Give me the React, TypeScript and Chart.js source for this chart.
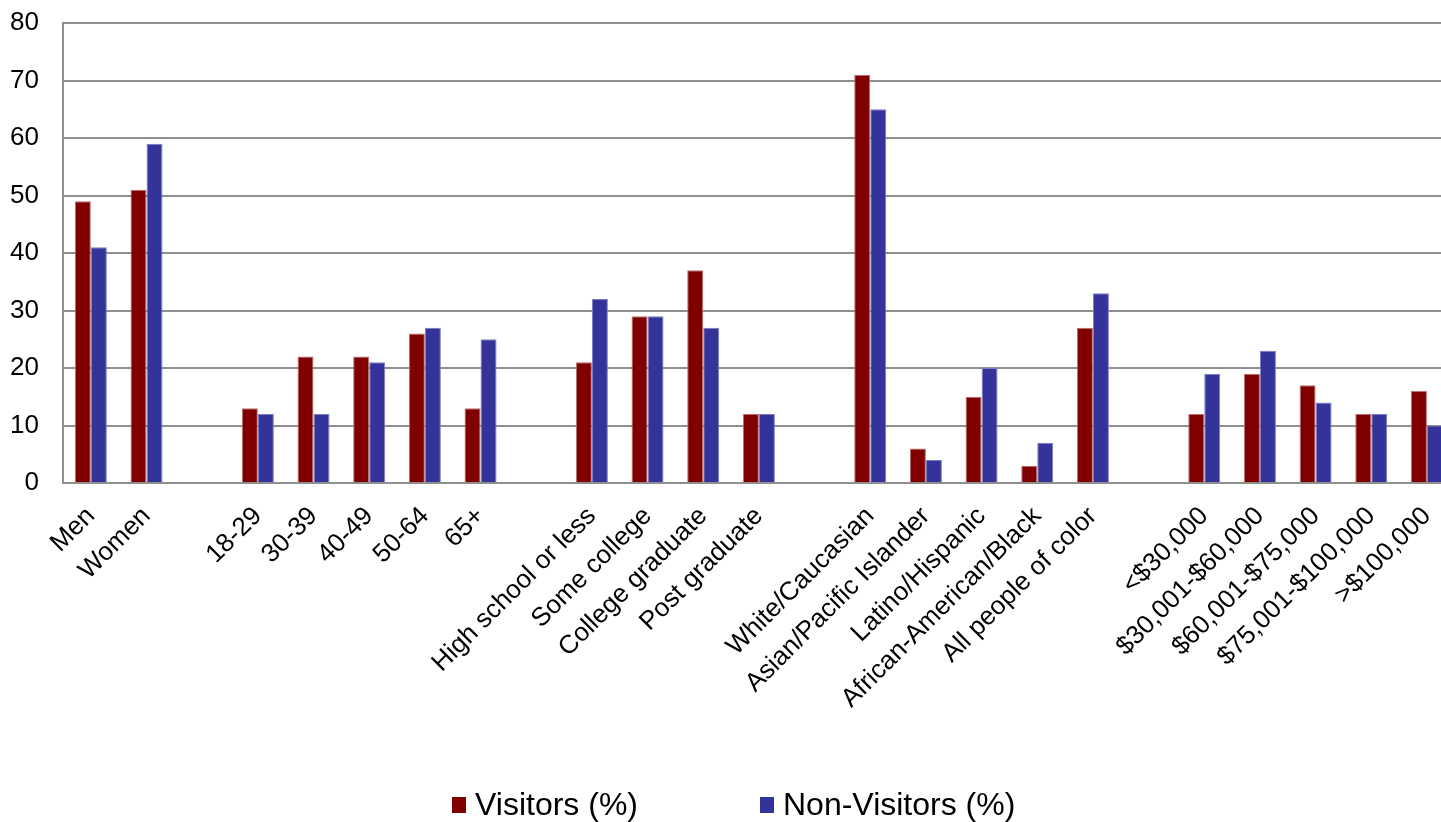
import React, { useEffect, useRef } from "react";
import { Chart, registerables } from "chart.js";

Chart.register(...registerables);

const categories: string[] = [
  "Men", "Women", "",
  "18-29", "30-39", "40-49", "50-64", "65+", "",
  "High school or less", "Some college", "College graduate", "Post graduate", "",
  "White/Caucasian", "Asian/Pacific Islander", "Latino/Hispanic", "African-American/Black", "All people of color", "",
  "<$30,000", "$30,001-$60,000", "$60,001-$75,000", "$75,001-$100,000", ">$100,000",
];

const visitors: (number | null)[] = [
  49, 51, null,
  13, 22, 22, 26, 13, null,
  21, 29, 37, 12, null,
  71, 6, 15, 3, 27, null,
  12, 19, 17, 12, 16,
];

const nonVisitors: (number | null)[] = [
  41, 59, null,
  12, 12, 21, 27, 25, null,
  32, 29, 27, 12, null,
  65, 4, 20, 7, 33, null,
  19, 23, 14, 12, 10,
];

const seriesNames = ["Visitors (%)", "Non-Visitors (%)"];
const yTicks = [0, 10, 20, 30, 40, 50, 60, 70, 80];

const RED = "#800000";
const BLUE = "#333399";
const FONT = "Arial, 'Liberation Sans', sans-serif";

export default function App() {
  const ref = useRef<HTMLCanvasElement | null>(null);

  useEffect(() => {
    document.body.style.margin = "0";
    const canvas = ref.current;
    if (!canvas) return;
    const chart = new Chart(canvas, {
      type: "bar",
      data: {
        labels: categories,
        datasets: [
          {
            label: seriesNames[0],
            data: visitors,
            backgroundColor: RED,
            borderColor: "#b87070",
            borderWidth: 1,
            categoryPercentage: 0.575,
            barPercentage: 1,
          },
          {
            label: seriesNames[1],
            data: nonVisitors,
            backgroundColor: BLUE,
            borderColor: "#7c7cc0",
            borderWidth: 1,
            categoryPercentage: 0.575,
            barPercentage: 1,
          },
        ],
      },
      options: {
        animation: false,
        responsive: true,
        maintainAspectRatio: false,
        layout: { padding: { top: 23, left: 0, right: 0, bottom: 0 } },
        plugins: {
          legend: { display: false },
          tooltip: { enabled: false },
        },
        scales: {
          x: {
            afterFit: (scale: any) => {
              scale.height = 339;
            },
            grid: { display: false, drawTicks: false },
            border: { display: true, color: "#8f8f8f", width: 2 },
            ticks: {
              autoSkip: false,
              minRotation: 45,
              maxRotation: 45,
              padding: 18,
              color: "#000",
              font: { family: FONT, size: 26 },
            },
          },
          y: {
            min: 0,
            max: 80,
            afterFit: (scale: any) => {
              scale.width = 63;
            },
            afterBuildTicks: (scale: any) => {
              scale.ticks = yTicks.map((v) => ({ value: v }));
            },
            grid: {
              color: "#8f8f8f",
              lineWidth: 2,
              drawTicks: true,
              tickLength: 24,
              tickColor: "rgba(0,0,0,0)",
            },
            border: { display: true, color: "#8f8f8f", width: 2 },
            ticks: {
              padding: 0,
              color: "#000",
              font: { family: FONT, size: 26 },
            },
          },
        },
      },
    });
    return () => chart.destroy();
  }, []);

  const legendText: React.CSSProperties = {
    position: "absolute",
    fontFamily: FONT,
    fontSize: 32,
    lineHeight: "30px",
    color: "#000",
    whiteSpace: "nowrap",
    top: 789,
  };

  return (
    <div style={{ position: "relative", width: 1441, height: 822, overflow: "hidden", background: "#fff" }}>
      <div style={{ position: "absolute", left: 0, top: 0, width: 1467, height: 822 }}>
        <canvas ref={ref} />
      </div>
      <div style={{ position: "absolute", left: 452, top: 797, width: 14, height: 16, background: RED }} />
      <div style={{ ...legendText, left: 475 }}>{seriesNames[0]}</div>
      <div style={{ position: "absolute", left: 760, top: 797, width: 14, height: 16, background: BLUE }} />
      <div style={{ ...legendText, left: 783 }}>{seriesNames[1]}</div>
    </div>
  );
}
